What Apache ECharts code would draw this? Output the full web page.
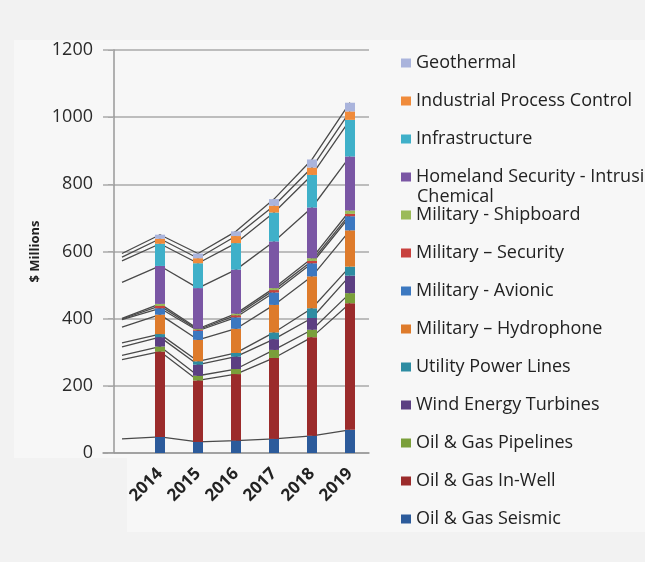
<!DOCTYPE html>
<html>
<head>
<meta charset="utf-8">
<script src="https://cdn.jsdelivr.net/npm/echarts@6/dist/echarts.min.js"></script>
<style>
html,body{margin:0;padding:0;background:#f2f2f2;}
#c{width:645px;height:562px;}
</style>
</head>
<body>
<div id="c"></div>
<script>
// Categories (first one is the partially visible, unlabeled column at the left edge)
const categories = ['', '2014', '2015', '2016', '2017', '2018', '2019'];

// Series values ($ millions), stacked bottom to top
const oilGasSeismic      = [42, 48, 33, 37, 42, 51, 69];
const oilGasInWell       = [236, 254, 183, 198, 241, 294, 377];
const oilGasPipelines    = [13, 15, 14, 15, 24, 22, 30];
const windTurbines       = [25, 28, 33, 37, 32, 35, 52];
const utilityPowerLines  = [12, 9, 10, 11, 20, 29, 27];
const militaryHydrophone = [47, 58, 64, 72, 82, 95, 108];
const militaryAvionic    = [22, 19, 27, 34, 37, 39, 42];
const militarySecurity   = [2, 7, 3, 6, 7, 7, 7];
const militaryShipboard  = [2, 6, 3, 5, 6, 8, 10];
const homelandSecurity   = [107, 113, 121, 131, 139, 151, 161];
const infrastructure     = [64, 66, 74, 79, 86, 97, 109];
const industrialProcess  = [11, 15, 15, 21, 20, 22, 25];
const geothermal         = [11, 12, 14, 14, 20, 24, 26];

const yTicks = [0, 200, 400, 600, 800, 1000, 1200];

const seriesDefs = [
  ['Oil & Gas Seismic', oilGasSeismic, '#2c5b9b'],
  ['Oil & Gas In-Well', oilGasInWell, '#9b2b2b'],
  ['Oil & Gas Pipelines', oilGasPipelines, '#7a9f3a'],
  ['Wind Energy Turbines', windTurbines, '#5c3f82'],
  ['Utility Power Lines', utilityPowerLines, '#2d8ca2'],
  ['Military \u2013 Hydrophone', militaryHydrophone, '#de7b2b'],
  ['Military - Avionic', militaryAvionic, '#3c78c0'],
  ['Military \u2013 Security', militarySecurity, '#c8413e'],
  ['Military - Shipboard', militaryShipboard, '#9bbb59'],
  ['Homeland Security - Intrusion', homelandSecurity, '#7a56a4'],
  ['Infrastructure', infrastructure, '#3fb0c9'],
  ['Industrial Process Control', industrialProcess, '#f08b3b'],
  ['Geothermal', geothermal, '#aab4dc']
];

const series = [];
seriesDefs.forEach(([name, vals, color]) => {
  series.push({
    name: name,
    type: 'bar',
    stack: 'bars',
    barWidth: 10,
    z: 3,
    itemStyle: { color: color },
    data: vals.map((v, i) => (categories[i] === '' ? '-' : v))
  });
});
seriesDefs.forEach(([name, vals]) => {
  series.push({
    name: name + ' line',
    type: 'line',
    stack: 'lines',
    z: 1,
    symbol: 'none',
    silent: true,
    lineStyle: { color: '#4a4a4a', width: 1.3 },
    data: vals.slice()
  });
});

const chart = echarts.init(document.getElementById('c'), null, { renderer: 'canvas' });
chart.setOption({
  backgroundColor: '#f2f2f2',
  animation: false,
  textStyle: { fontFamily: 'Open Sans' },
  graphic: [
    { type: 'rect', z: -10, shape: { x: 14, y: 40, width: 631, height: 418 }, style: { fill: '#f7f7f7' } },
    { type: 'rect', z: -10, shape: { x: 127, y: 40, width: 518, height: 492 }, style: { fill: '#f7f7f7' } },
    { type: 'text', left: 417, top: 188, style: { text: 'Chemical', font: '18px "Open Sans"', fill: '#222' } }
  ],
  grid: { left: 103, right: 276, top: 50, bottom: 109 },
  legend: {
    orient: 'vertical',
    left: 401,
    top: 53,
    padding: 0,
    itemWidth: 10,
    itemHeight: 9,
    itemGap: 18,
    icon: 'rect',
    selectedMode: false,
    textStyle: { fontSize: 18, lineHeight: 20, color: '#222', fontFamily: 'Open Sans' },
    data: seriesDefs.map(d => d[0]).reverse()
  },
  xAxis: {
    type: 'category',
    data: categories,
    axisLine: { lineStyle: { color: '#999', width: 1.5 } },
    axisTick: { show: false },
    axisLabel: { rotate: 45, margin: 18, fontSize: 17, fontWeight: 'bold', color: '#222', interval: 0 }
  },
  yAxis: {
    type: 'value',
    min: yTicks[0],
    max: yTicks[yTicks.length - 1],
    interval: yTicks[1] - yTicks[0],
    offset: -11,
    name: '$ Millions',
    nameLocation: 'middle',
    nameGap: 72,
    nameTextStyle: { fontSize: 13, fontWeight: 'bold', color: '#222' },
    axisLine: { show: true, lineStyle: { color: '#999', width: 1.5 } },
    axisTick: { show: true, length: 6, lineStyle: { color: '#aaa' } },
    axisLabel: { margin: 21, fontSize: 18, color: '#2a2a2a', formatter: v => String(v) },
    splitLine: { lineStyle: { color: '#aaa', width: 1.5 } }
  },
  series: series
});
</script>
</body>
</html>
